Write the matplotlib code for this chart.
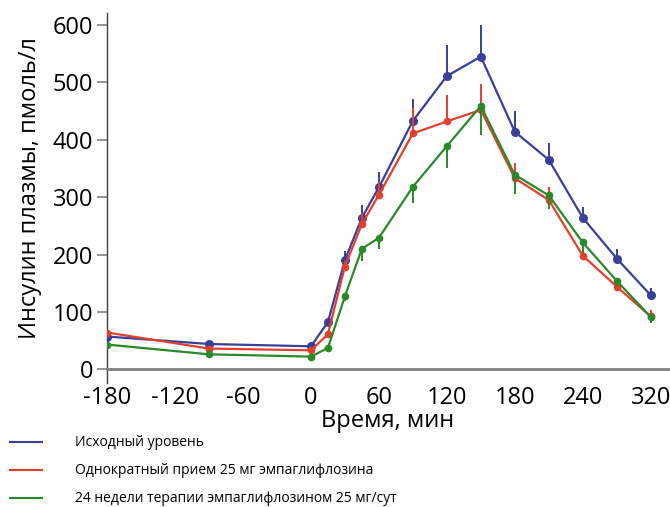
import matplotlib
matplotlib.use("Agg")
import matplotlib.pyplot as plt
from matplotlib.lines import Line2D

plt.rcParams['font.family'] = ['Open Sans', 'DejaVu Sans']

time_min = [-180, -90, 0, 15, 30, 45, 60, 90, 120, 150, 180, 210, 240, 270, 300]

baseline = [57, 44, 40, 82, 190, 264, 317, 433, 511, 545, 414, 365, 264, 193, 129]
baseline_err = [0, 0, 0, 5, 16, 22, 27, 38, 54, 55, 36, 29, 18, 17, 12]

single_dose = [64, 36, 33, 61, 179, 253, 304, 411, 432, 452, 333, 295, 198, 144, 92]
single_dose_err = [0, 0, 0, 5, 10, 20, 25, 44, 46, 45, 26, 22, 8, 8, 11]

week24 = [43, 26, 22, 37, 127, 210, 229, 318, 389, 459, 339, 303, 221, 154, 91]
week24_err = [0, 0, 0, 3, 8, 21, 19, 29, 38, 51, 34, 24, 19, 8, 10]

xtick_pos = [-180, -120, -60, 0, 60, 120, 180, 240, 300]
xtick_labels = ["-180", "-120", "-60", "0", "60", "120", "180", "240", "320"]
ytick_pos = [0, 100, 200, 300, 400, 500, 600]

labels = ["Исходный уровень",
          "Однократный прием 25 мг эмпаглифлозина",
          "24 недели терапии эмпаглифлозином 25 мг/сут"]
colors = ["#3a3f98", "#e2402c", "#2a8a2a"]

fig = plt.figure(figsize=(6.70, 5.07), dpi=100)
ax = fig.add_axes([107 / 670, 124 / 507, 1 - 107 / 670, 370 / 507])

zeros = [0] * len(time_min)
ax.errorbar(time_min, baseline, yerr=[zeros, baseline_err], color=colors[0],
            lw=1.6, marker='o', ms=5.5, elinewidth=1.4, capsize=0, zorder=3)
ax.errorbar(time_min, single_dose, yerr=[zeros, single_dose_err], color=colors[1],
            lw=1.6, marker='o', ms=4.5, elinewidth=1.4, capsize=0, zorder=4)
ax.errorbar(time_min, week24, yerr=[week24_err, zeros], color=colors[2],
            lw=1.6, marker='o', ms=4.5, elinewidth=1.4, capsize=0, zorder=5)

ax.set_xlim(-180, 317)
ax.set_ylim(-24, 621)

for s in ["top", "right"]:
    ax.spines[s].set_visible(False)
ax.spines["bottom"].set_position(("data", 0))
ax.spines["bottom"].set_color("#808080")
ax.spines["bottom"].set_linewidth(2)
ax.spines["left"].set_color("#404040")
ax.spines["left"].set_linewidth(1)

ax.set_xticks(xtick_pos)
ax.set_xticklabels(xtick_labels)
ax.set_yticks(ytick_pos)
ax.tick_params(axis="x", length=0, pad=12, labelsize=17)
ax.tick_params(axis="y", length=7, width=1.2, color="#808080", pad=3, labelsize=17)

fig.text(30 / 670, 1 - 188 / 507, "Инсулин плазмы, пмоль/л", rotation=90,
         ha="center", va="center", fontsize=17)
fig.text(388 / 670, 1 - 421 / 507, "Время, мин", ha="center", va="center", fontsize=17)

for i, (lab, col) in enumerate(zip(labels, colors)):
    y = 1 - (442 + 28 * i) / 507
    fig.add_artist(Line2D([10 / 670, 42 / 670], [y, y], color=col, lw=1.5))
    fig.text(75 / 670, y, lab, ha="left", va="center", fontsize=10)

fig.savefig("out.png", dpi=100)
